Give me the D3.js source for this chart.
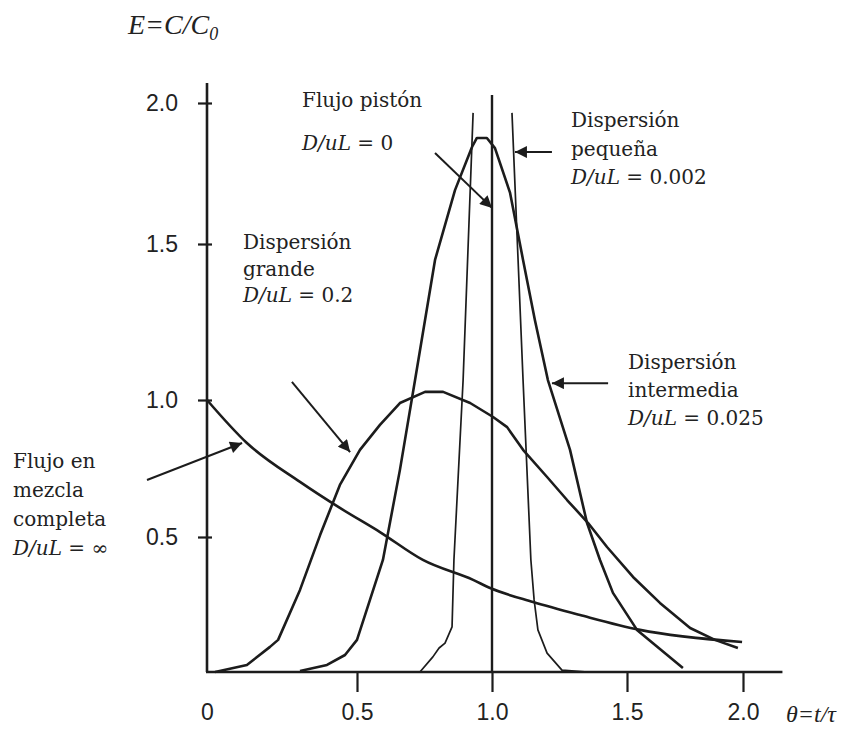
<!DOCTYPE html>
<html>
<head>
<meta charset="utf-8">
<script src="https://cdn.jsdelivr.net/npm/d3@7"></script>
<style>
  body { margin: 0; background: #fff; }
  .tick text { font-family: "Liberation Sans", Arial, sans-serif; font-size: 23px; fill: #222; }
  .note { font-family: "DejaVu Serif", serif; font-size: 20px; fill: #222; }
</style>
</head>
<body>
<div id="chart"></div>
<script>
// valores (theta = t/tau, E = C/C0)
const xTicks = [0, 0.5, 1.0, 1.5, 2.0];
const yTicks = [0.5, 1.0, 1.5, 2.0];

const mezclaCompleta = [[0, 1.0], [0.133, 0.843], [0.31, 0.701], [0.443, 0.606], [0.585, 0.518],
    [0.744, 0.415], [0.93, 0.341], [0.993, 0.311], [1.152, 0.259], [1.326, 0.211],
    [1.556, 0.156], [1.996, 0.111]];

const dispersionGrande = [[0.027, 0], [0.133, 0.026], [0.21, 0.093], [0.237, 0.119], [0.31, 0.304],
    [0.377, 0.507], [0.443, 0.69], [0.511, 0.818], [0.585, 0.909], [0.659, 0.989],
    [0.752, 1.026], [0.819, 1.026], [0.919, 0.989], [1.004, 0.938], [1.056, 0.901],
    [1.115, 0.818], [1.204, 0.719], [1.278, 0.635], [1.356, 0.551], [1.426, 0.463],
    [1.526, 0.352], [1.642, 0.256], [1.772, 0.163], [1.879, 0.119], [1.978, 0.089]];

const dispersionIntermedia = [[0.31, 0.004], [0.40, 0.026], [0.46, 0.063], [0.5, 0.119], [0.548, 0.267],
    [0.596, 0.415], [0.659, 0.745], [0.715, 1.064], [0.789, 1.449], [0.863, 1.691],
    [0.926, 1.844], [0.944, 1.876], [0.981, 1.876], [1.011, 1.84], [1.067, 1.681],
    [1.115, 1.449], [1.159, 1.256], [1.207, 1.064], [1.289, 0.818], [1.352, 0.551],
    [1.4, 0.415], [1.448, 0.293], [1.543, 0.156], [1.741, 0.015]];

// la curva pequena sale por arriba del grafico: null = corte
const dispersionPequena = [[0.733, 0], [0.781, 0.056], [0.804, 0.089], [0.826, 0.107], [0.852, 0.167],
    [0.859, 0.415], [0.893, 1.064], [0.93, 1.965], null,
    [1.074, 1.965], [1.115, 1.064], [1.144, 0.415], [1.156, 0.267], [1.17, 0.156],
    [1.204, 0.07], [1.259, 0.007], [1.356, 0]];

const flujoPiston = [[1, 0], [1, 2.028]];

// flechas de las etiquetas: [desde, hasta] en (theta, E)
const flechas = [
    [[0.789, 1.823], [1.0, 1.628]],   // flujo piston
    [[1.222, 1.826], [1.085, 1.826]], // pequena
    [[0.283, 1.058], [0.477, 0.81]],  // grande
    [[1.430, 1.054], [1.222, 1.054]], // intermedia
    [[-0.2, 0.708], [0.117, 0.843]]   // mezcla completa
];

const width = 854, height = 729;
const ink = "#1c1c1c";

let svg = d3.select("#chart").append("svg")
    .attr("width", width)
    .attr("height", height);

// los ejes del original no son uniformes (dibujados a mano)
let x = d3.scaleLinear()
    .domain(xTicks)
    .range([207, 357, 492, 627, 743]);
let y = d3.scaleLinear()
    .domain([0, 0.5, 1.0, 1.5, 2.0])
    .range([672, 537, 400, 244, 103]);

svg.append("defs").append("marker")
    .attr("id", "head")
    .attr("viewBox", "0 0 10 10")
    .attr("refX", 10)
    .attr("refY", 5)
    .attr("markerUnits", "userSpaceOnUse")
    .attr("markerWidth", 16)
    .attr("markerHeight", 12)
    .attr("orient", "auto")
    .append("path")
    .attr("d", "M0,0 L10,5 L0,10 z")
    .attr("fill", ink);

// ejes
let yAxis = svg.append("g")
    .attr("transform", `translate(${x(0)},0)`)
    .call(d3.axisLeft(y).tickValues(yTicks).tickFormat(d3.format(".1f"))
        .tickSize(9).tickPadding(20));
yAxis.select(".domain").remove();
yAxis.selectAll(".tick line").attr("x1", 5).attr("stroke", ink).attr("stroke-width", 2.2);

let xAxis = svg.append("g")
    .attr("transform", `translate(0,${y(0)})`)
    .call(d3.axisBottom(x).tickValues(xTicks).tickFormat((d) => d === 0 ? "0" : d3.format(".1f")(d))
        .tickSize(20).tickPadding(12));
xAxis.select(".domain").remove();
xAxis.selectAll(".tick line").attr("stroke", ink).attr("stroke-width", 2.2)
    .attr("opacity", (d) => d === 0 ? 0 : 1);

svg.append("line")
    .attr("x1", x(0)).attr("x2", x(0))
    .attr("y1", y(2.071)).attr("y2", y(0))
    .attr("stroke", ink).attr("stroke-width", 2.6);
svg.append("line")
    .attr("x1", x(0) - 1).attr("x2", x(2.17))
    .attr("y1", y(0)).attr("y2", y(0))
    .attr("stroke", ink).attr("stroke-width", 2.6);

// curvas
let line = d3.line()
    .defined((d) => d !== null)
    .x((d) => x(d[0]))
    .y((d) => y(d[1]));

let curves = [
    { data: mezclaCompleta, w: 2.6, curve: d3.curveMonotoneX },
    { data: dispersionGrande, w: 2.6, curve: d3.curveLinear },
    { data: dispersionIntermedia, w: 2.6, curve: d3.curveLinear },
    { data: dispersionPequena, w: 1.7, curve: d3.curveLinear },
    { data: flujoPiston, w: 2.4, curve: d3.curveLinear }
];

svg.selectAll("path.curva")
    .data(curves)
    .enter()
    .append("path")
    .attr("class", "curva")
    .attr("fill", "none")
    .attr("stroke", ink)
    .attr("stroke-width", (d) => d.w)
    .attr("stroke-linejoin", "round")
    .attr("d", (d) => line.curve(d.curve)(d.data));

svg.selectAll("line.flecha")
    .data(flechas)
    .enter()
    .append("line")
    .attr("class", "flecha")
    .attr("x1", (d) => x(d[0][0]))
    .attr("y1", (d) => y(d[0][1]))
    .attr("x2", (d) => x(d[1][0]))
    .attr("y2", (d) => y(d[1][1]))
    .attr("stroke", ink)
    .attr("stroke-width", 2)
    .attr("marker-end", "url(#head)");

// textos de las anotaciones
function note(lines, px, py, gap) {
    lines.forEach((txt, i) => {
        let t = svg.append("text")
            .attr("class", "note")
            .attr("x", px)
            .attr("y", py + i * gap);
        if (txt.startsWith("D/uL")) {
            t.append("tspan").attr("font-style", "italic").text("D/uL");
            t.append("tspan").text(txt.slice(4));
        } else {
            t.text(txt);
        }
    });
}

note(["Flujo pistón"], 302, 107, 0);
note(["D/uL = 0"], 302, 150, 0);
note(["Dispersión", "pequeña", "D/uL = 0.002"], 571, 127, 28.5);
note(["Dispersión", "grande", "D/uL = 0.2"], 243, 249, 26.5);
note(["Dispersión", "intermedia", "D/uL = 0.025"], 628, 369, 28);
note(["Flujo en", "mezcla", "completa", "D/uL = ∞"], 13, 468, 29);

// titulos de los ejes
let yt = svg.append("text")
    .attr("x", 128)
    .attr("y", 34)
    .attr("font-family", "Liberation Serif, serif")
    .attr("font-style", "italic")
    .attr("font-size", 28)
    .attr("fill", "#222")
    .text("E=C/C");
yt.append("tspan").attr("font-size", 18).attr("dy", 6).text("0");

svg.append("text")
    .attr("x", 786)
    .attr("y", 722)
    .attr("font-family", "Liberation Serif, serif")
    .attr("font-style", "italic")
    .attr("font-size", 24)
    .attr("fill", "#222")
    .text("θ=t/τ");
</script>
</body>
</html>
